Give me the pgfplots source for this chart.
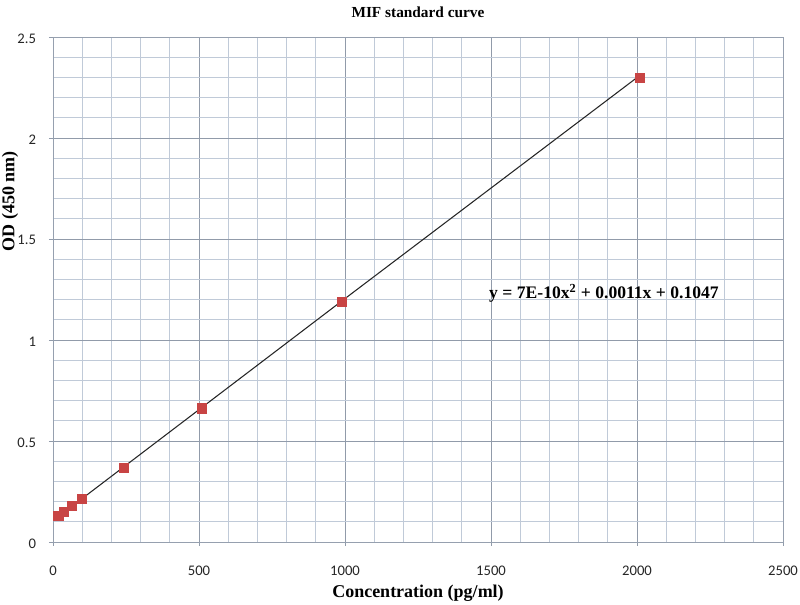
\documentclass[border=0pt]{standalone}
\usepackage{pgfplots}
\pgfplotsset{compat=1.18}
\usepackage{fontspec}
\setmainfont{Liberation Serif}
\newfontfamily\tickfont{Carlito}
\definecolor{gridminor}{RGB}{192,202,216}
\definecolor{gridmajor}{RGB}{145,155,170}
\definecolor{axiscol}{RGB}{150,160,175}
\definecolor{markred}{RGB}{200,68,68}
\begin{document}
\begin{tikzpicture}
\useasboundingbox (-39.75pt,-47.25pt) rectangle (560.25pt,406.5pt);
\begin{axis}[
  at={(0,0)}, anchor=south west,
  scale only axis,
  width=547.5pt, height=378.75pt,
  xmin=0, xmax=2500, ymin=0, ymax=2.5,
  xtick={0,500,...,2500},
  ytick={0,0.5,...,2.5},
  minor x tick num=4,
  minor y tick num=4,
  grid=both,
  major grid style={draw=gridmajor, line width=0.6pt},
  minor grid style={draw=gridminor, line width=0.6pt},
  axis line style={draw=axiscol, line width=0.7pt},
  tick align=outside,
  major tick length=3pt,
  minor tick length=0pt,
  tick style={draw=gridmajor, line width=0.6pt},
  xtick pos=bottom, ytick pos=left,
  /pgf/number format/assume math mode=true,
  /pgf/number format/.cd, fixed, 1000 sep={}, /pgfplots/.cd,
  ticklabel style={font=\tickfont\fontsize{11}{13}\selectfont, text=black!85},
  xticklabel style={anchor=base, inner sep=0pt, yshift=-22pt},
  yticklabel style={anchor=east, inner sep=0pt, xshift=-9.5pt, yshift=-1pt},
  xlabel={Concentration (pg/ml)},
  xlabel style={at={(axis description cs:0.5,-0.101)}, anchor=center, font=\bfseries\fontsize{13.5}{15}\selectfont},
  ylabel={OD (450 nm)},
  ylabel style={at={(axis description cs:-0.059,0.675)}, anchor=center, font=\bfseries\fontsize{13.5}{15}\selectfont},
  clip=false,
]
\addplot[line width=0.8pt, color=black!85] coordinates {
  (18,0.125) (1000,1.205) (2010,2.31)
};
\addplot[only marks, mark=square*, mark size=3.4pt, mark options={fill=markred, draw=markred}] coordinates {
  (18,0.129) (38,0.150) (64,0.178) (100,0.216) (241,0.368) (509,0.662) (988,1.187) (2010,2.300)
};
\node[anchor=west, inner sep=0pt, font=\bfseries\fontsize{13.2}{15}\selectfont] at (axis cs:1493,1.233) {y = 7E-10x\textsuperscript{2} + 0.0011x + 0.1047};
\node[anchor=center, inner sep=0pt, font=\bfseries\fontsize{11.5}{13}\selectfont] at (axis description cs:0.5,1.0495) {MIF standard curve};
\end{axis}
\end{tikzpicture}
\end{document}
